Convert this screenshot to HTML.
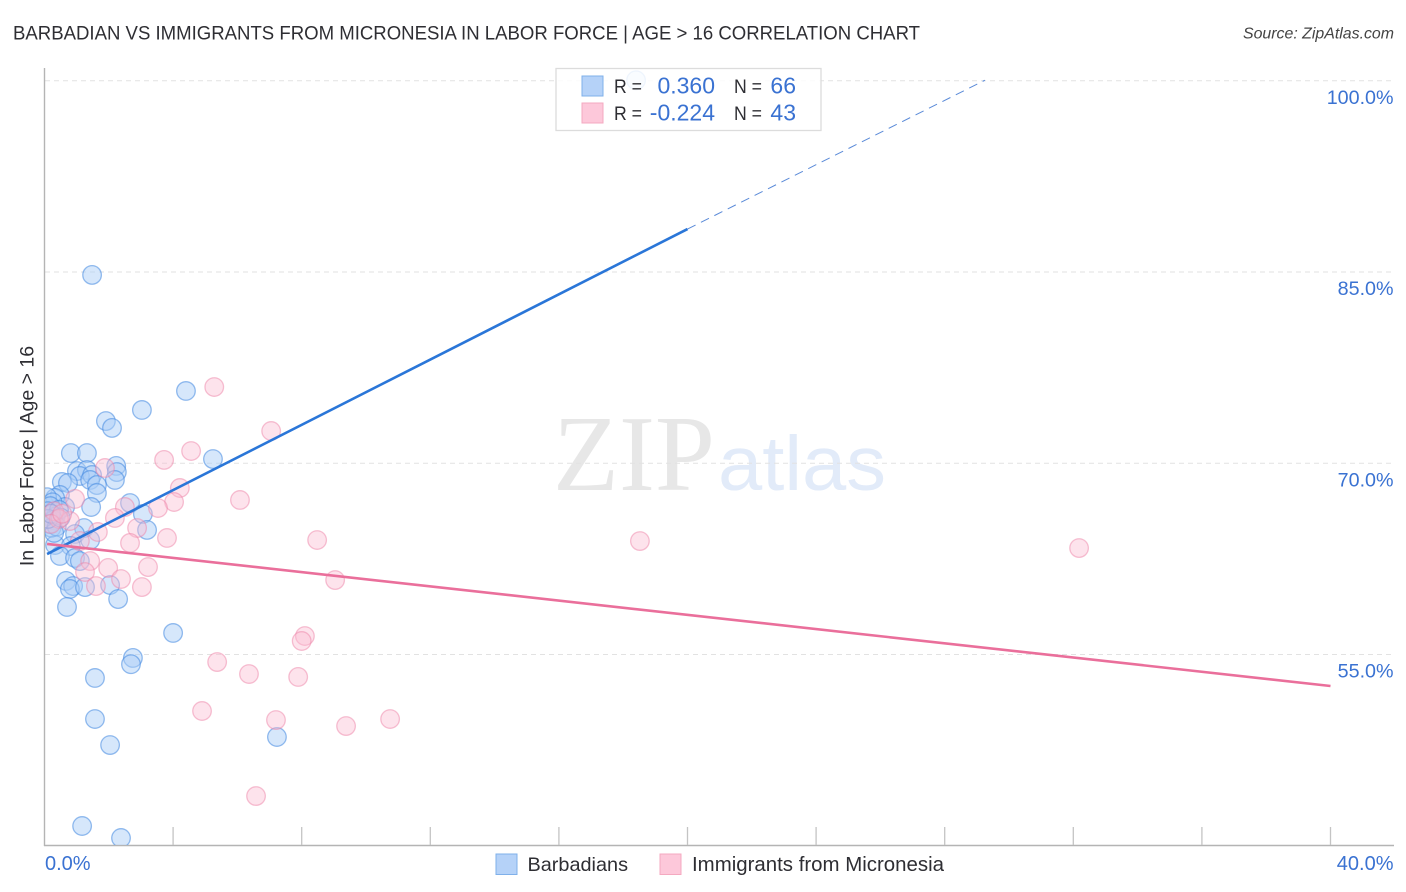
<!DOCTYPE html>
<html lang="en">
<head>
<meta charset="utf-8">
<title>Barbadian vs Immigrants from Micronesia in Labor Force | Age > 16 Correlation Chart</title>
<style>
html,body{margin:0;padding:0;background:#fff;}
body{width:1406px;height:892px;overflow:hidden;}
svg{display:block;font-family:"Liberation Sans",sans-serif;}
</style>
</head>
<body>
<svg id="chart" width="1406" height="892" viewBox="0 0 1406 892" xmlns="http://www.w3.org/2000/svg">
  <defs>
    <clipPath id="plot-clip"><rect x="45" y="68" width="1349" height="777"/></clipPath>
  </defs>
  <rect x="0" y="0" width="1406" height="892" fill="#fff"/>
  <text x="13" y="39.5" font-size="19.3" fill="#2e2e33" textLength="907" lengthAdjust="spacingAndGlyphs">BARBADIAN VS IMMIGRANTS FROM MICRONESIA IN LABOR FORCE | AGE &gt; 16 CORRELATION CHART</text>
  <text x="1394" y="38.5" font-size="15.9" font-style="italic" fill="#444" text-anchor="end">Source: ZipAtlas.com</text>

  <g>
    <text x="553" y="490" font-family="'Liberation Serif',serif" font-size="108" fill="#e7e7e7" textLength="162" lengthAdjust="spacingAndGlyphs">ZIP</text>
    <text x="718" y="490" font-size="77" fill="#e2ebf9" textLength="168" lengthAdjust="spacingAndGlyphs">atlas</text>
  </g>

  <g id="grid"></g>
  <g id="axes"></g>
  <g id="marks" clip-path="url(#plot-clip)"></g>

  <text transform="translate(33.5,456) rotate(-90)" font-size="19.5" fill="#2e2e33" text-anchor="middle">In Labor Force | Age &gt; 16</text>

  <g>
    <rect x="556" y="68.5" width="265" height="62" fill="#fff" fill-opacity="0.85" stroke="#dcdcdc" stroke-width="1.3"/>
    <rect x="582" y="76" width="21" height="20" fill="#b5d2f8" stroke="#7fb0ea" stroke-width="1"/>
    <rect x="582" y="103" width="21" height="20" fill="#fdc8da" stroke="#f4a9c0" stroke-width="1"/>
    <text x="614" y="93" font-size="19.5" fill="#2e2e33" textLength="28" lengthAdjust="spacingAndGlyphs">R =</text>
    <text x="715" y="93.5" font-size="23" fill="#3a72d2" text-anchor="end">0.360</text>
    <text x="734" y="93" font-size="19.5" fill="#2e2e33" textLength="28" lengthAdjust="spacingAndGlyphs">N =</text>
    <text x="796" y="93.5" font-size="23" fill="#3a72d2" text-anchor="end">66</text>
    <text x="614" y="120" font-size="19.5" fill="#2e2e33" textLength="28" lengthAdjust="spacingAndGlyphs">R =</text>
    <text x="715" y="120.5" font-size="23" fill="#3a72d2" text-anchor="end">-0.224</text>
    <text x="734" y="120" font-size="19.5" fill="#2e2e33" textLength="28" lengthAdjust="spacingAndGlyphs">N =</text>
    <text x="796" y="120.5" font-size="23" fill="#3a72d2" text-anchor="end">43</text>
  </g>

  <g>
    <rect x="496" y="854" width="21" height="20.5" fill="#b5d2f8" stroke="#7fb0ea" stroke-width="1"/>
    <text x="527.5" y="871" font-size="19.8" fill="#2e2e33" textLength="100.5" lengthAdjust="spacingAndGlyphs">Barbadians</text>
    <rect x="660" y="854" width="21" height="20.5" fill="#fdc8da" stroke="#f4a9c0" stroke-width="1"/>
    <text x="692" y="871" font-size="20" fill="#2e2e33" textLength="252" lengthAdjust="spacingAndGlyphs">Immigrants from Micronesia</text>
  </g>
</svg>
<script>
var barbadiansX = [1.48,4.40,3.03,1.91,2.10,0.82,1.32,5.24,2.23,1.01,1.32,2.25,1.10,1.48,1.42,2.19,0.54,0.73,1.63,1.63,0.48,0.33,0.08,2.66,1.45,0.64,3.06,3.19,1.23,0.95,1.42,0.33,0.82,0.48,0.95,1.10,0.67,0.89,0.79,1.26,2.04,2.29,0.70,4.00,2.75,2.69,1.57,1.57,2.04,7.23,1.17,2.38,18.40,0.25,0.18,0.10,0.35,0.45,0.28,0.15,0.22,0.38,0.30,0.12,0.20,0.50];
var barbadiansY = [84.73,75.63,74.14,73.27,72.73,70.76,70.76,70.29,69.75,69.35,69.43,69.27,68.96,69.04,68.65,68.65,68.49,68.41,68.25,67.63,67.47,67.24,67.30,66.84,66.53,66.53,65.98,64.73,64.88,64.41,63.94,63.55,63.47,62.69,62.53,62.29,60.73,60.33,60.10,60.25,60.41,59.31,58.69,56.65,54.69,54.20,53.12,49.90,47.86,48.49,41.51,40.57,100.00,66.90,66.60,66.20,65.80,66.30,65.50,65.20,64.90,65.00,64.50,65.60,66.00,65.70];
var micronesiaX = [5.28,7.05,4.56,3.72,1.88,4.21,4.03,6.08,0.95,3.53,2.50,2.19,0.79,2.88,1.66,3.81,2.66,8.48,18.52,32.18,1.10,1.42,3.22,1.98,1.26,2.38,9.04,1.60,3.03,8.10,8.00,5.37,6.36,7.89,4.90,7.20,9.38,10.75,6.58,0.30,0.45,0.20,0.55];
var micronesiaY = [75.94,72.49,70.92,70.22,69.59,68.02,66.92,67.08,67.16,66.45,66.53,65.67,65.43,64.88,64.57,64.10,63.71,63.94,63.86,63.31,63.86,62.29,61.82,61.75,61.43,60.88,60.80,60.33,60.25,56.41,56.02,54.37,53.43,53.20,50.53,49.82,49.35,49.90,43.86,66.20,65.60,65.20,66.00];
var barbadiansTrendX = [0.08,20.0];
var barbadiansTrendY = [62.84,88.33];
var barbadiansForecastX = [20.0,29.25];
var barbadiansForecastY = [88.33,100.0];
var micronesiaTrendX = [0.08,40.0];
var micronesiaTrendY = [63.63,52.49];
var yTickValues = [100,85,70,55];
var yTickLabels = ["100.0%","85.0%","70.0%","55.0%"];
var xTickValues = [4,8,12,16,20,24,28,32,36,40];
var xEndValues = [0,40];
var xEndLabels = ["0.0%","40.0%"];

var NS = "http://www.w3.org/2000/svg";
function xScale(v){ return 44.5 + v * 32.15; }
function yScale(v){ return 654 + (55 - v) * 12.75; }
function make(tag, parent, attrs){
  var el = document.createElementNS(NS, tag);
  for (var k in attrs) el.setAttribute(k, attrs[k]);
  parent.appendChild(el);
  return el;
}
var grid = document.getElementById("grid");
var axes = document.getElementById("axes");
var marks = document.getElementById("marks");

yTickValues.forEach(function(v, i){
  var line = make("line", grid, {x1:45, x2:1394, y1:yScale(v)+0.5, y2:yScale(v)+0.5, stroke:"#e2e2e2", "stroke-width":1, "stroke-dasharray":"5 4"});
  
  
  var label = make("text", axes, {x:1393.5, y:yScale(v)+23.5, "font-size":19.7, fill:"#3a72d2", "text-anchor":"end"});
  label.textContent = yTickLabels[i];
  
  
});

var yAxisLine = make("line", axes, {x1:44.5, x2:44.5, y1:68, y2:846, stroke:"#b4b4b4", "stroke-width":1.4});


var xAxisLine = make("line", axes, {x1:44, x2:1394, y1:845.5, y2:845.5, stroke:"#b4b4b4", "stroke-width":1.4});



xTickValues.forEach(function(v){
  var tick = make("line", axes, {x1:xScale(v), x2:xScale(v), y1:827, y2:845, stroke:"#c4c4c4", "stroke-width":1.3});
  
  
});

xEndValues.forEach(function(v, i){
  var label = make("text", axes, {x:i === 0 ? xScale(v) + 0.5 : 1393.5, y:870, "font-size":20, fill:"#3a72d2", "text-anchor":i === 0 ? "start" : "end"});
  label.textContent = xEndLabels[i];
  
  
});

barbadiansX.forEach(function(v, i){
  var dot = make("circle", marks, {cx:xScale(v), cy:yScale(barbadiansY[i]), r:9.3, fill:"#a9ccf6", "fill-opacity":0.48, stroke:"#3f86e0", "stroke-opacity":0.55, "stroke-width":1.3});
  
  
});
micronesiaX.forEach(function(v, i){
  var dot = make("circle", marks, {cx:xScale(v), cy:yScale(micronesiaY[i]), r:9.3, fill:"#fbbdd2", "fill-opacity":0.42, stroke:"#ee84a8", "stroke-opacity":0.5, "stroke-width":1.3});
  
  
});

var trendBlue = make("line", marks, {x1:xScale(barbadiansTrendX[0]), y1:yScale(barbadiansTrendY[0]), x2:xScale(barbadiansTrendX[1]), y2:yScale(barbadiansTrendY[1]), stroke:"#2a76d8", "stroke-width":2.6});


var forecastBlue = make("line", marks, {x1:xScale(barbadiansForecastX[0]), y1:yScale(barbadiansForecastY[0]), x2:xScale(barbadiansForecastX[1]), y2:yScale(barbadiansForecastY[1]), stroke:"#5a8ad8", "stroke-width":1, "stroke-dasharray":"9 6"});


var trendPink = make("line", marks, {x1:xScale(micronesiaTrendX[0]), y1:yScale(micronesiaTrendY[0]), x2:xScale(micronesiaTrendX[1]), y2:yScale(micronesiaTrendY[1]), stroke:"#ea6f9b", "stroke-width":2.6});


</script>
</body>
</html>
